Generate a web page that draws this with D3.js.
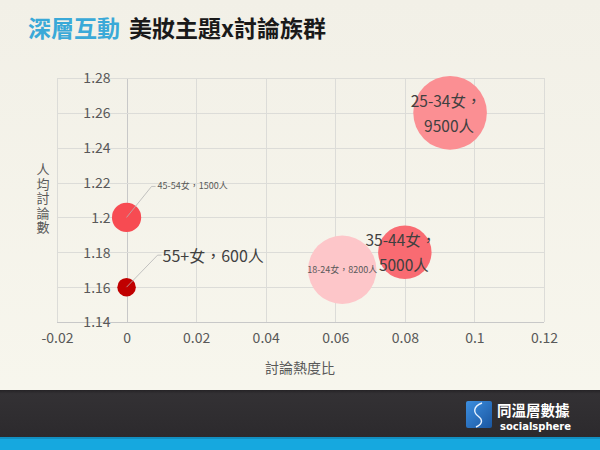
<!DOCTYPE html>
<html>
<head>
<meta charset="utf-8">
<script src="https://cdn.jsdelivr.net/npm/d3@7"></script>
<style>
  html, body { margin: 0; padding: 0; }
  body { width: 600px; height: 450px; overflow: hidden; }
  svg { display: block; font-family: "Noto Sans CJK TC", "Noto Sans", sans-serif; }
</style>
</head>
<body>
<svg id="chart" width="600" height="450"></svg>
<script>
// ---- data ----
const groups     = ["18-24女", "25-34女", "35-44女", "45-54女", "55+女"];
const heatRatio  = [0.062, 0.093, 0.08, 0, 0];          // 討論熱度比
const perCapita  = [1.17, 1.26, 1.18, 1.2, 1.16];      // 人均討論數
const people     = [8200, 9500, 5000, 1500, 600];      // 人數
const colors     = ["#fdc6c9", "#fb8f93", "#f96b72", "#f74b52", "#c00000"];
const xTicks     = [-0.02, 0, 0.02, 0.04, 0.06, 0.08, 0.1, 0.12];
const yTicks     = [1.14, 1.16, 1.18, 1.2, 1.22, 1.24, 1.26, 1.28];
const titleBlue  = "深層互動";
const titleBlack = "美妝主題x討論族群";
const xTitle     = "討論熱度比";
const yTitle     = "人均討論數";

const svg = d3.select("#chart");

// background
const defs = svg.append("defs");
const bg = defs.append("linearGradient").attr("id", "bg").attr("x1", 0).attr("y1", 0).attr("x2", 0).attr("y2", 1);
bg.append("stop").attr("offset", "0%").attr("stop-color", "#f2f0e7");
bg.append("stop").attr("offset", "100%").attr("stop-color", "#f8f7ee");
svg.append("rect").attr("width", 600).attr("height", 450).attr("fill", "url(#bg)");

// title
const title = svg.append("text").attr("x", 28).attr("y", 37)
  .attr("font-size", 23).attr("font-weight", "bold");
title.append("tspan").attr("fill", "#3aa9d8").text(titleBlue);
title.append("tspan").attr("fill", "#1a1a1a").attr("dx", 9).text(titleBlack);

// scales
const x = d3.scaleLinear().domain([-0.02, 0.12]).range([57, 544]);
const y = d3.scaleLinear().domain([1.14, 1.28]).range([322, 78]);
const r = d3.scaleSqrt().domain([0, d3.max(people)]).range([0, 36.8]);

// grid
const grid = svg.append("g");
grid.selectAll("line.v").data(xTicks).join("line")
  .attr("x1", d => Math.round(x(d)) + 0.5).attr("x2", d => Math.round(x(d)) + 0.5)
  .attr("y1", y(1.28)).attr("y2", y(1.14))
  .attr("stroke", d => d === 0 ? "#c8c8c8" : "#dcdcd8").attr("stroke-width", 1);
grid.selectAll("line.h").data(yTicks).join("line")
  .attr("x1", x(-0.02)).attr("x2", x(0.12))
  .attr("y1", d => Math.round(y(d)) + 0.5).attr("y2", d => Math.round(y(d)) + 0.5)
  .attr("stroke", d => d === 1.14 ? "#c8c8c8" : "#dcdcd8").attr("stroke-width", 1);

// axes (labels only, Excel style: y axis crosses at x = 0)
const numFmt = d => String(+d.toFixed(2));
const xAxis = d3.axisBottom(x).tickValues(xTicks).tickFormat(numFmt).tickSize(0).tickPadding(0);
const gx = svg.append("g").attr("transform", `translate(0,${y(1.14) + 17})`).call(xAxis);
gx.select(".domain").remove();
gx.selectAll("text").attr("fill", "#595959").attr("font-size", 14)
  .attr("font-family", "'Noto Sans CJK TC', sans-serif").attr("dy", "0.32em");

const yAxis = d3.axisLeft(y).tickValues(yTicks).tickFormat(numFmt).tickSize(0).tickPadding(0);
const gy = svg.append("g").attr("transform", `translate(${x(0) - 16},0)`).call(yAxis);
gy.select(".domain").remove();
gy.selectAll("text").attr("fill", "#595959").attr("font-size", 14)
  .attr("font-family", "'Noto Sans CJK TC', sans-serif").attr("dy", "0.35em");

// axis titles
svg.append("text").attr("x", 300).attr("y", 373).attr("text-anchor", "middle")
  .attr("fill", "#595959").attr("font-size", 14).text(xTitle);
svg.append("text").attr("x", 43).attr("y", 163)
  .attr("fill", "#595959").attr("font-size", 13)
  .style("writing-mode", "vertical-rl").style("text-orientation", "upright")
  .attr("letter-spacing", 1.4).text(yTitle);

// bubbles
const data = groups.map((g, i) => ({ g, hx: heatRatio[i], py: perCapita[i], n: people[i], c: colors[i] }));
svg.append("g").selectAll("circle").data(data).join("circle")
  .attr("cx", d => x(d.hx)).attr("cy", d => y(d.py)).attr("r", d => r(d.n))
  .attr("fill", d => d.c);

// labels
const lab = svg.append("g").attr("fill", "#404040");
const fmt = d => `${d.g}，${d.n}人`;
data.forEach(d => {
  const cx = x(d.hx), cy = y(d.py);
  if (d.g === "18-24女") {
    lab.append("text").attr("x", cx).attr("y", cy + 3.5).attr("text-anchor", "middle")
      .attr("font-size", 9).attr("fill", "#595959").text(fmt(d));
  } else if (d.g === "25-34女" || d.g === "35-44女") {
    const t = lab.append("text").attr("text-anchor", "middle").attr("font-size", 15.5);
    t.append("tspan").attr("x", cx - 4).attr("y", cy - 6).text(`${d.g}，`);
    t.append("tspan").attr("x", cx - 1).attr("y", cy + 19).text(`${d.n}人`);
  } else if (d.g === "45-54女") {
    svg.append("polyline").attr("points", `${cx},${cy} ${cx + 25},${cy - 31} ${cx + 29},${cy - 31}`)
      .attr("fill", "none").attr("stroke", "#b4b4b4").attr("stroke-width", 0.8);
    lab.append("text").attr("x", cx + 31).attr("y", cy - 28).attr("font-size", 9)
      .attr("fill", "#595959").text(fmt(d));
  } else {
    svg.append("polyline").attr("points", `${cx},${cy} ${cx + 31},${cy - 32} ${cx + 35},${cy - 32}`)
      .attr("fill", "none").attr("stroke", "#b4b4b4").attr("stroke-width", 0.8);
    lab.append("text").attr("x", cx + 36).attr("y", cy - 25).attr("font-size", 16)
      .text(fmt(d));
  }
});

// footer
const fg = defs.append("linearGradient").attr("id", "foot").attr("x1", 0).attr("y1", 0).attr("x2", 0).attr("y2", 1);
fg.append("stop").attr("offset", "0%").attr("stop-color", "#252326");
fg.append("stop").attr("offset", "8%").attr("stop-color", "#333134");
fg.append("stop").attr("offset", "100%").attr("stop-color", "#2c2a2d");
svg.append("rect").attr("x", 0).attr("y", 390).attr("width", 600).attr("height", 48).attr("fill", "url(#foot)");
svg.append("rect").attr("x", 0).attr("y", 437).attr("width", 600).attr("height", 13).attr("fill", "#16a8df");
svg.append("rect").attr("x", 0).attr("y", 437).attr("width", 600).attr("height", 2).attr("fill", "#1290c2");

// logo
const lg = defs.append("linearGradient").attr("id", "logo").attr("x1", 0).attr("y1", 0).attr("x2", 1).attr("y2", 1);
lg.append("stop").attr("offset", "0%").attr("stop-color", "#3d8fe0");
lg.append("stop").attr("offset", "100%").attr("stop-color", "#1a56a0");
svg.append("rect").attr("x", 466).attr("y", 401).attr("width", 26).attr("height", 27).attr("rx", 2).attr("fill", "url(#logo)");
svg.append("path").attr("d", "M482,403 C472,407 474,413 478,416 C482,419 484,423 476,427")
  .attr("fill", "none").attr("stroke", "#e8f2ff").attr("stroke-width", 1.4);
svg.append("text").attr("fill", "#ffffff").attr("font-weight", "bold")
  .attr("x", 497).attr("y", 415.5).attr("font-size", 14.5).text("同溫層數據");
svg.append("text").attr("fill", "#ffffff").attr("font-weight", "bold")
  .attr("x", 500).attr("y", 430).attr("font-size", 10)
  .attr("font-family", "'DejaVu Sans', sans-serif").attr("letter-spacing", 0).text("socialsphere");
</script>
</body>
</html>
